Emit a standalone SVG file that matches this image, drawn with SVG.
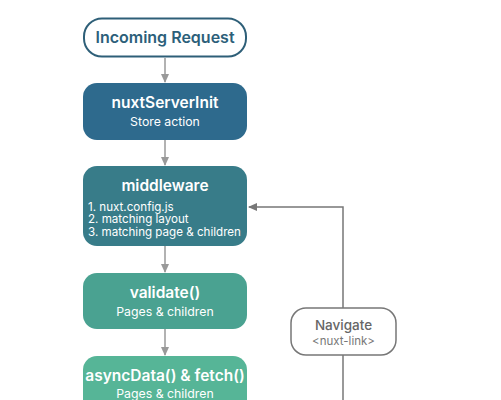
<svg xmlns="http://www.w3.org/2000/svg" width="501" height="400" viewBox="0 0 501 400">
<style>
.t{font-family:Inter,"Liberation Sans",sans-serif;text-anchor:middle;fill:#fff}
.h{font-size:15.5px;font-weight:600}
.s{font-size:12.3px}
.l{font-family:Inter,"Liberation Sans",sans-serif;font-size:11.6px;fill:#fff}
.c{fill:none;stroke:#999;stroke-width:1.5}
.c2{fill:none;stroke:#777;stroke-width:1.5}
</style>
<defs>
<marker id="a" markerWidth="10" markerHeight="10" refX="8" refY="5" orient="auto" markerUnits="userSpaceOnUse">
<path d="M0,1 L9,5 L0,9 z" fill="#999"/>
</marker>
<marker id="a2" markerWidth="10" markerHeight="10" refX="8" refY="5" orient="auto" markerUnits="userSpaceOnUse">
<path d="M0,1 L9,5 L0,9 z" fill="#777"/>
</marker>
</defs>
<rect width="501" height="400" fill="#fff"/>
<g id="connectors">
<line class="c" x1="165" y1="58" x2="165" y2="82" marker-end="url(#a)"/>
<line class="c" x1="165" y1="140" x2="165" y2="165" marker-end="url(#a)"/>
<line class="c" x1="165" y1="246" x2="165" y2="272" marker-end="url(#a)"/>
<line class="c" x1="165" y1="329" x2="165" y2="355" marker-end="url(#a)"/>
<polyline class="c2" points="343,308 343,207 249,207" marker-end="url(#a2)"/>
<line class="c2" x1="343" y1="355" x2="343" y2="400"/>
</g>
<g id="incoming">
<rect x="84" y="18.5" width="162" height="38" rx="18" fill="#fff" stroke="#2e5f78" stroke-width="2"/>
<text class="t" x="165" y="43" style="fill:#2c5f7a;font-size:16px;font-weight:600">Incoming Request</text>
</g>
<g id="nuxtServerInit">
<rect x="83" y="83" width="164" height="57" rx="14" fill="#2e6a8d"/>
<text class="t h" x="165" y="108">nuxtServerInit</text>
<text class="t s" x="165" y="126">Store action</text>
</g>
<g id="middleware">
<rect x="83" y="166" width="164" height="80" rx="14" fill="#387c89"/>
<text class="t h" x="165" y="191">middleware</text>
<text class="l" x="88" y="210.5">1. nuxt.config.js</text>
<text class="l" x="88" y="223">2. matching layout</text>
<text class="l" x="88" y="235.5">3. matching page &amp; children</text>
</g>
<g id="validate">
<rect x="83" y="273" width="164" height="56" rx="14" fill="#4aa291"/>
<text class="t h" x="165" y="298">validate()</text>
<text class="t s" x="165" y="316">Pages &amp; children</text>
</g>
<g id="asyncData">
<rect x="83" y="356" width="164" height="60" rx="14" fill="#56b597"/>
<text class="t h" x="165" y="381">asyncData() &amp; fetch()</text>
<text class="t s" x="165" y="398">Pages &amp; children</text>
</g>
<g id="navigate">
<rect x="291" y="308" width="105" height="47" rx="15" fill="#fff" stroke="#777" stroke-width="1.5"/>
<text class="t" x="343.5" y="330" style="fill:#666;font-size:13.5px;font-weight:500">Navigate</text>
<text class="t" x="343.5" y="345" style="fill:#777;font-size:11.5px">&lt;nuxt-link&gt;</text>
</g>
</svg>
